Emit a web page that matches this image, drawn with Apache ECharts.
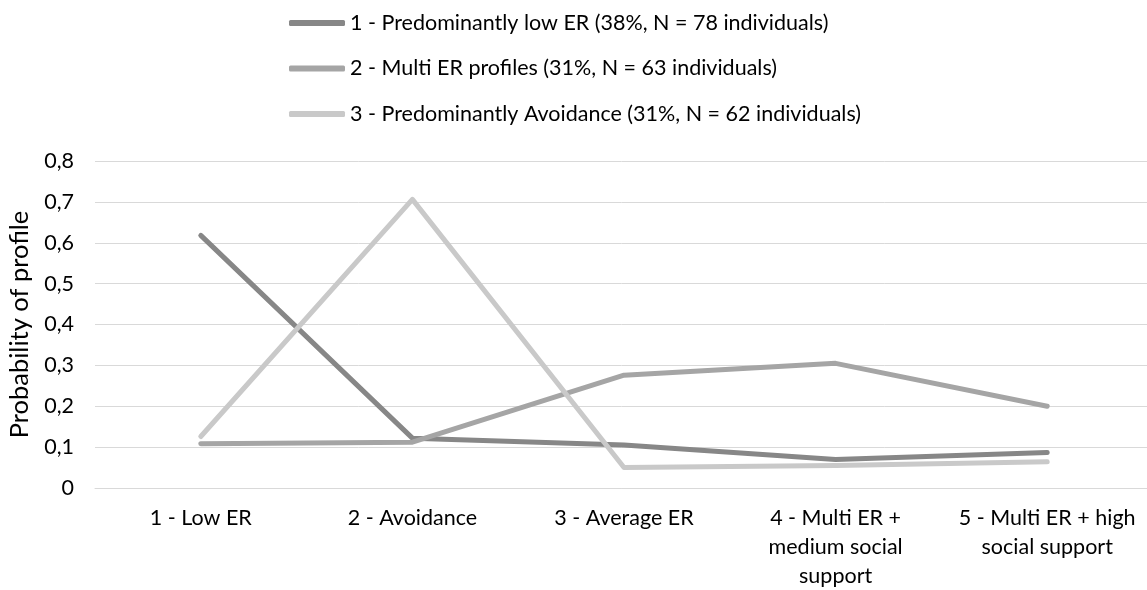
<!DOCTYPE html>
<html>
<head>
<meta charset="utf-8">
<script src="https://cdn.jsdelivr.net/npm/echarts@6/dist/echarts.min.js"></script>
<style>
  html, body { margin: 0; padding: 0; background: #fff; }
  #chart { width: 1147px; height: 590px; }
</style>
</head>
<body>
<div id="chart"></div>
<script>
var categories = [
    '1 - Low ER',
    '2 - Avoidance',
    '3 - Average ER',
    '4 - Multi ER +\nmedium social\nsupport',
    '5 - Multi ER + high\nsocial support'
];
var seriesNames = [
    '1 - Predominantly low ER (38%, N = 78 individuals)',
    '2 - Multi ER profiles (31%, N = 63 individuals)',
    '3 - Predominantly Avoidance (31%, N = 62 individuals)'
];
var lowER = [0.618, 0.122, 0.105, 0.070, 0.087];
var multiER = [0.108, 0.112, 0.276, 0.305, 0.200];
var avoidance = [0.126, 0.706, 0.050, 0.055, 0.064];

var colors = ['#878787', '#a5a5a5', '#c9c9c9'];
var font = 'Lato';

var chart = echarts.init(document.getElementById('chart'));

function mkLine(name, data, color) {
    return {
        name: name,
        type: 'line',
        data: data,
        symbol: 'none',
        lineStyle: { color: color, width: 5, cap: 'round', join: 'round' },
        itemStyle: { color: color },
        z: 3
    };
}

var option = {
    backgroundColor: '#ffffff',
    animation: false,
    color: colors,
    legend: {
        orient: 'vertical',
        left: 284,
        top: 7,
        icon: 'roundRect',
        itemWidth: 56,
        itemHeight: 6,
        itemGap: 23.5,
        textStyle: { fontFamily: font, fontSize: 21.5, color: '#000' },
        data: seriesNames
    },
    grid: {
        left: 95,
        top: 161,
        width: 1058,
        bottom: 102,
        outerBoundsMode: 'none',
        containLabel: false
    },
    xAxis: {
        type: 'category',
        data: categories,
        boundaryGap: true,
        axisLine: { show: true, lineStyle: { color: '#d9d9d9', width: 1 } },
        axisTick: { show: false },
        axisLabel: {
            interval: 0,
            margin: 16,
            fontFamily: font,
            fontSize: 21.5,
            lineHeight: 29,
            color: '#000',
            align: 'center'
        }
    },
    yAxis: {
        type: 'value',
        min: 0,
        max: 0.8,
        interval: 0.1,
        name: 'Probability of profile',
        nameLocation: 'middle',
        nameRotate: 90,
        nameGap: 58,
        nameTextStyle: { fontFamily: font, fontSize: 25.5, color: '#000' },
        axisLine: { show: false },
        axisTick: { show: false },
        splitLine: { lineStyle: { color: '#d9d9d9', width: 1 } },
        axisLabel: {
            margin: 21,
            fontFamily: font,
            fontSize: 21.5,
            color: '#000',
            formatter: function (v) {
                if (v === 0) return '0';
                return String(Math.round(v * 10) / 10).replace('.', ',');
            }
        }
    },
    series: [
        mkLine(seriesNames[0], lowER, colors[0]),
        mkLine(seriesNames[1], multiER, colors[1]),
        mkLine(seriesNames[2], avoidance, colors[2])
    ]
};

chart.setOption(option);
</script>
</body>
</html>
